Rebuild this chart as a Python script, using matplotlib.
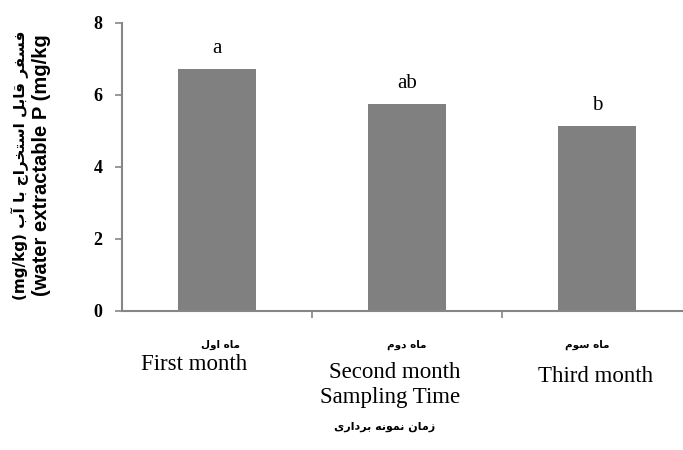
import numpy as np
import matplotlib.pyplot as plt

# mean water-extractable P per sampling month
months_en = ['First month', 'Second month', 'Third month']
months_fa = ['ماه اول', 'ماه دوم', 'ماه سوم']
p_values = [6.72, 5.75, 5.14]
groups = ['a', 'ab', 'b']
yticks = [0, 2, 4, 6, 8]

xlabel_en = 'Sampling Time'
xlabel_fa = 'زمان نمونه برداری'
ylabel_fa = 'فسفر قابل استخراج با آب'
ylabel_en = '(water extractable P (mg/kg'

# matplotlib has no arabic shaping, so map letters to presentation forms
# (isolated, final, initial, medial) and lay them out right to left
FORMS = {
    'ا': ('\uFE8D', '\uFE8E', None, None),
    'آ': ('\uFE81', '\uFE82', None, None),
    'ب': ('\uFE8F', '\uFE90', '\uFE91', '\uFE92'),
    'ت': ('\uFE95', '\uFE96', '\uFE97', '\uFE98'),
    'ج': ('\uFE9D', '\uFE9E', '\uFE9F', '\uFEA0'),
    'خ': ('\uFEA5', '\uFEA6', '\uFEA7', '\uFEA8'),
    'د': ('\uFEA9', '\uFEAA', None, None),
    'ر': ('\uFEAD', '\uFEAE', None, None),
    'ز': ('\uFEAF', '\uFEB0', None, None),
    'س': ('\uFEB1', '\uFEB2', '\uFEB3', '\uFEB4'),
    'ف': ('\uFED1', '\uFED2', '\uFED3', '\uFED4'),
    'ق': ('\uFED5', '\uFED6', '\uFED7', '\uFED8'),
    'ل': ('\uFEDD', '\uFEDE', '\uFEDF', '\uFEE0'),
    'م': ('\uFEE1', '\uFEE2', '\uFEE3', '\uFEE4'),
    'ن': ('\uFEE5', '\uFEE6', '\uFEE7', '\uFEE8'),
    'ه': ('\uFEE9', '\uFEEA', '\uFEEB', '\uFEEC'),
    'و': ('\uFEED', '\uFEEE', None, None),
    'ی': ('\uFEEF', '\uFEF0', '\uFEF3', '\uFEF4'),
}


def shape(s):
    out = []
    for i, ch in enumerate(s):
        if ch not in FORMS:
            out.append(ch)
            continue
        prev = s[i - 1] if i > 0 else ''
        nxt = s[i + 1] if i + 1 < len(s) else ''
        join_prev = prev in FORMS and FORMS[prev][2] is not None
        join_next = FORMS[ch][2] is not None and nxt in FORMS
        iso, fin, ini, med = FORMS[ch]
        if join_prev and join_next:
            out.append(med)
        elif join_prev:
            out.append(fin)
        elif join_next:
            out.append(ini)
        else:
            out.append(iso)
    return ''.join(out[::-1])


serif = 'Liberation Serif'
fa_font = 'DejaVu Sans'

fig = plt.figure(figsize=(6.83, 4.5), dpi=100)
ax = fig.add_axes([0.1786, 0.3089, 0.8346, 0.64])

x = np.arange(len(p_values))
ax.bar(x, p_values, width=0.41, color='#808080')

for xi, v, g in zip(x, p_values, groups):
    ax.annotate(g, (xi, v), xytext=(0, 15), textcoords='offset points',
                ha='center', va='center', fontsize=15, family=serif)

ax.set_xlim(-0.5, 2.5)
ax.set_ylim(0, 8)
ax.set_yticks(yticks)
ax.set_yticklabels([str(t) for t in yticks], family=serif,
                   fontsize=13, fontweight='bold')
ax.set_xticks([0.5, 1.5])
ax.set_xticklabels([])

for side in ['top', 'right']:
    ax.spines[side].set_visible(False)
for side in ['left', 'bottom']:
    ax.spines[side].set_color('#868686')
    ax.spines[side].set_linewidth(1.5)
ax.tick_params(axis='both', colors='#868686', length=5, width=1.2)
ax.tick_params(axis='y', labelcolor='black', pad=9)

# category labels, persian above english
trans = ax.get_xaxis_transform()
fa_x = [0.02, 1.0, 1.95]
en_x = [-0.12, 0.937, 1.99]
en_y = [-0.1875, -0.212, -0.229]
for i in range(3):
    ax.text(fa_x[i], -0.118, shape(months_fa[i]), transform=trans,
            ha='center', va='center', fontsize=7.5, fontweight='bold',
            family=fa_font)
    ax.text(en_x[i], en_y[i], months_en[i], transform=trans,
            ha='center', va='center', fontsize=16.5, family=serif)

ax.text(0.91, -0.302, xlabel_en, transform=trans, ha='center',
        va='center', fontsize=16.5, family=serif)
ax.text(0.88, -0.403, shape(xlabel_fa), transform=trans, ha='center',
        va='center', fontsize=8, fontweight='bold', family=fa_font)

# two-line y label
fig.text(20 / 683, 0.633, '(mg/kg) ' + shape(ylabel_fa), rotation=90,
         ha='center', va='center', fontsize=11, fontweight='bold',
         family=[fa_font])
fig.text(42 / 683, 0.633, ylabel_en, rotation=90, ha='center',
         va='center', fontsize=14.5, fontweight='bold',
         family='Liberation Sans')

fig.savefig('out.png', dpi=100)
